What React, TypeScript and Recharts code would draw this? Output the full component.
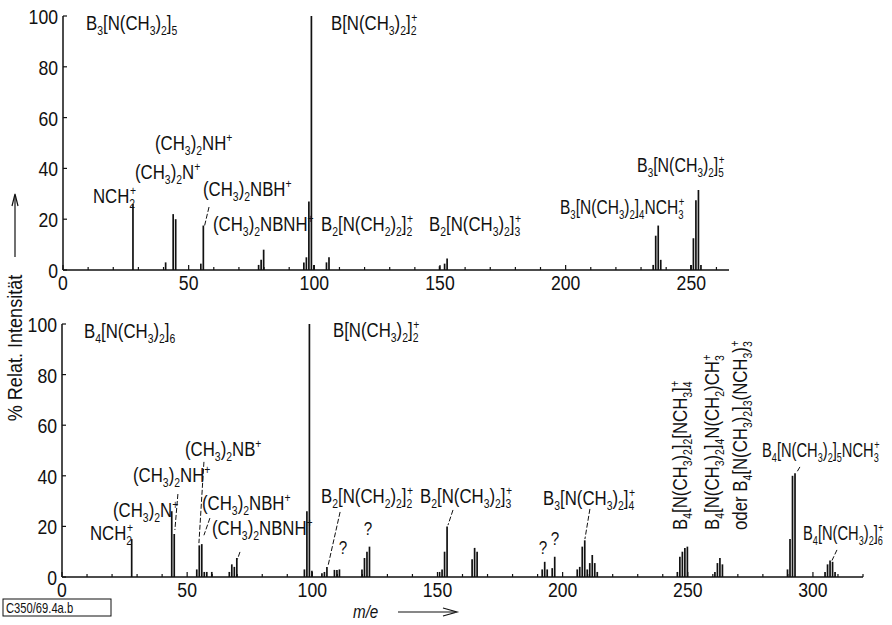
import React from 'react';
import { BarChart, Bar, XAxis, YAxis, ReferenceLine } from 'recharts';

// m/e values and relative intensities (%)
const topMz = [28, 41, 44, 45, 55, 56, 78, 79, 80, 96, 97, 98, 99, 100, 105, 106, 150, 152, 153, 235, 236, 237, 238, 250, 251, 252, 253, 254];
const topInt = [26, 3, 22, 20, 2.5, 17.5, 2, 4, 8, 3, 5, 27, 100, 2, 3, 5, 1.5, 2.5, 4.5, 2, 13.5, 17.5, 4, 2, 12.5, 27.5, 31.5, 2];

const bottomMz = [28, 44, 45, 54, 55, 56, 57, 58, 60, 67, 68, 69, 70, 97, 98, 99, 100, 104, 105, 106, 109, 110, 111, 120, 121, 122, 123, 151, 152, 153, 154, 164, 165, 166, 192, 193, 194, 196, 197, 206, 207, 208, 209, 210, 211, 212, 213, 214, 246, 247, 248, 249, 250, 261, 262, 263, 264, 290, 291, 292, 293, 305, 306, 307, 308, 309];
const bottomInt = [15, 26, 17, 3, 12.5, 13, 2, 2, 2, 2, 5, 4, 7.5, 3, 26, 100, 2.5, 1.5, 2, 4, 2.8, 2.8, 3, 3, 7.5, 10, 12, 2, 3, 10, 20, 7, 11.5, 10, 3, 6, 3, 3.5, 8, 3, 4, 12, 14.5, 3, 5.5, 8.7, 5.5, 2, 2, 8, 10, 11.5, 12, 2, 5.5, 7.5, 5, 3, 15, 40, 41, 2, 5, 6.5, 6, 2];

const yTicks = [0, 20, 40, 60, 80, 100];
const topXTicks = [0, 10, 20, 30, 40, 50, 60, 70, 80, 90, 100, 110, 120, 130, 140, 150, 160, 170, 180, 190, 200, 210, 220, 230, 240, 250, 260];
const bottomXTicks = [0, 10, 20, 30, 40, 50, 60, 70, 80, 90, 100, 110, 120, 130, 140, 150, 160, 170, 180, 190, 200, 210, 220, 230, 240, 250, 260, 270, 280, 290, 300, 310, 320];

const topData = topMz.map((m, i) => ({ mz: m, i: topInt[i] }));
const bottomData = bottomMz.map((m, i) => ({ mz: m, i: bottomInt[i] }));

const FONT = '"Liberation Sans", Arial, sans-serif';
const INK = '#111';
const SX = 0.8; // the lettering of the original is a narrow DIN-like face

// leader lines, in (m/e, %) coordinates
const topLeaders = [[58.1, 24.8, 56.3, 17.3]];
const bottomLeaders = [
  [46.3, 32.8, 45.1, 18.6],
  [56.7, 45.5, 54.7, 13.4],
  [59.1, 23.3, 56.7, 16.5],
  [71.1, 9.9, 70.1, 7],
  [111.1, 25.7, 106.3, 4.5],
  [156.2, 26.5, 154.2, 20.5],
  [210.9, 26.9, 208.9, 15],
  [294.8, 43.5, 293.6, 41.5],
  [309.6, 10.7, 307.6, 6.5],
];

// "_x" subscript, "^x" superscript, "_x^y" stacked
type Seg = { k: 'n' | 'b' | 'p' | 'bp'; t: string; p?: string };
function parse(s: string): Seg[] {
  const out: Seg[] = [];
  let buf = '';
  let i = 0;
  const flush = () => {
    if (buf) out.push({ k: 'n', t: buf });
    buf = '';
  };
  while (i < s.length) {
    const c = s[i];
    if (c === '_') {
      flush();
      if (s[i + 2] === '^') {
        out.push({ k: 'bp', t: s[i + 1], p: s[i + 3] });
        i += 4;
      } else {
        out.push({ k: 'b', t: s[i + 1] });
        i += 2;
      }
    } else if (c === '^') {
      flush();
      out.push({ k: 'p', t: s[i + 1] });
      i += 2;
    } else {
      buf += c;
      i++;
    }
  }
  flush();
  return out;
}

function Narrow({ x, y, size = 21, anchor = 'start', rotate = false, italic = false, sx = SX, children }: any) {
  const tr = `translate(${x} ${y})${rotate ? ' rotate(-90)' : ''} scale(${sx} 1)`;
  return (
    <g transform={tr}>
      <text x={0} y={0} fontSize={size} fontFamily={FONT} fill={INK} textAnchor={anchor} fontStyle={italic ? 'italic' : undefined}>
        {children}
      </text>
    </g>
  );
}

function Formula({ x, y, s, size = 21, rotate = false, sx = SX }: { x: number; y: number; s: string; size?: number; rotate?: boolean; sx?: number }) {
  const small = size * 0.62;
  const subDy = size * 0.26;
  const supDy = size * 0.36;
  let off = 0;
  const spans: React.ReactNode[] = [];
  parse(s).forEach((g, i) => {
    if (g.k === 'n') {
      spans.push(<tspan key={i} dy={-off} fontSize={size}>{g.t}</tspan>);
      off = 0;
    } else if (g.k === 'b') {
      spans.push(<tspan key={i} dy={subDy - off} fontSize={small}>{g.t}</tspan>);
      off = subDy;
    } else if (g.k === 'p') {
      spans.push(<tspan key={i} dy={-supDy - off} fontSize={small}>{g.t}</tspan>);
      off = -supDy;
    } else {
      spans.push(<tspan key={i + 'b'} dy={subDy - off} fontSize={small}>{g.t}</tspan>);
      spans.push(<tspan key={i + 'p'} dx={-small * 0.5} dy={-supDy - subDy} fontSize={small}>{g.p}</tspan>);
      off = -supDy;
    }
  });
  return (
    <Narrow x={x} y={y} size={size} rotate={rotate} sx={sx}>
      {spans}
    </Narrow>
  );
}

const XTick = (props: any) => {
  const { x, y, payload } = props;
  const v = payload.value;
  const major = v % 50 === 0;
  return (
    <g>
      <line x1={x} x2={x} y1={y} y2={y - (major ? 5 : 3)} stroke={INK} strokeWidth={1.2} />
      {major && (
        <Narrow x={x} y={y + 20} anchor="middle" sx={0.84}>
          {v}
        </Narrow>
      )}
    </g>
  );
};

const YTick = (props: any) => {
  const { x, y, payload } = props;
  return (
    <g>
      <line x1={x} x2={x + 4} y1={y} y2={y} stroke={INK} strokeWidth={1.2} />
      <Narrow x={x - 5} y={y + 8} anchor="end" sx={0.84}>
        {payload.value}
      </Narrow>
    </g>
  );
};

function Spectrum({ data, xMax, xTicks, width, height, margin, xHeight, yWidth, leaders }: any) {
  return (
    <BarChart width={width} height={height} data={data} margin={margin}>
      <XAxis
        dataKey="mz"
        type="number"
        domain={[0, xMax]}
        ticks={xTicks}
        interval={0}
        height={xHeight}
        tickSize={0}
        tickMargin={0}
        tickLine={false}
        axisLine={{ stroke: INK, strokeWidth: 1.5 }}
        tick={<XTick />}
        allowDataOverflow
      />
      <YAxis
        type="number"
        domain={[0, 100]}
        ticks={yTicks}
        interval={0}
        width={yWidth}
        tickSize={0}
        tickMargin={0}
        tickLine={false}
        axisLine={{ stroke: INK, strokeWidth: 1.5 }}
        tick={<YTick />}
      />
      <Bar dataKey="i" fill={INK} barSize={1.7} isAnimationActive={false} />
      {leaders.map((l: number[], i: number) => (
        <ReferenceLine
          key={i}
          segment={[{ x: l[0], y: l[1] }, { x: l[2], y: l[3] }]}
          stroke={INK}
          strokeWidth={1}
          strokeDasharray="5 2"
          ifOverflow="visible"
        />
      ))}
    </BarChart>
  );
}

export default function App() {
  return (
    <div style={{ position: 'absolute', left: 0, top: 0, width: 892, height: 625, background: '#fff', overflow: 'hidden' }}>
      <div style={{ position: 'absolute', left: 0, top: 0 }}>
        <Spectrum
          data={topData}
          xMax={265}
          xTicks={topXTicks}
          width={760}
          height={300}
          margin={{ top: 16, right: 31, left: 0, bottom: 0 }}
          xHeight={30}
          yWidth={63}
          leaders={topLeaders}
        />
      </div>
      <div style={{ position: 'absolute', left: 0, top: 300 }}>
        <Spectrum
          data={bottomData}
          xMax={320}
          xTicks={bottomXTicks}
          width={892}
          height={325}
          margin={{ top: 24, right: 29, left: 0, bottom: 0 }}
          xHeight={48}
          yWidth={62}
          leaders={bottomLeaders}
        />
      </div>
      <svg width={892} height={625} style={{ position: 'absolute', left: 0, top: 0, pointerEvents: 'none' }}>
        {/* upper spectrum */}
        <Formula x={86} y={30} s="B_3[N(CH_3)_2]_5" />
        <Formula x={331} y={30} s="B[N(CH_3)_2]_2^+" />
        <Formula x={93} y={203} s="NCH_2^+" />
        <Formula x={155} y={150} s="(CH_3)_2NH^+" />
        <Formula x={135} y={179} s="(CH_3)_2N^+" />
        <Formula x={203} y={196} s="(CH_3)_2NBH^+" />
        <Formula x={213} y={231} s="(CH_3)_2NBNH^+" />
        <Formula x={321} y={231} s="B_2[N(CH_2)_2]_2^+" />
        <Formula x={429} y={231} s="B_2[N(CH_3)_2]_3^+" />
        <Formula x={560} y={214} s="B_3[N(CH_3)_2]_4NCH_3^+" sx={0.74} />
        <Formula x={637} y={172} s="B_3[N(CH_3)_2]_5^+" sx={0.76} />

        {/* lower spectrum */}
        <Formula x={84} y={338} s="B_4[N(CH_3)_2]_6" />
        <Formula x={333} y={337} s="B[N(CH_3)_2]_2^+" />
        <Formula x={90} y={540} s="NCH_2^+" />
        <Formula x={113} y={517} s="(CH_3)_2N^+" />
        <Formula x={133} y={482} s="(CH_3)_2NH^+" />
        <Formula x={185} y={456} s="(CH_3)_2NB^+" />
        <Formula x={202} y={510} s="(CH_3)_2NBH^+" />
        <Formula x={212} y={535} s="(CH_3)_2NBNH^+" />
        <Formula x={321} y={503} s="B_2[N(CH_2)_2]_2^+" />
        <Formula x={420} y={503} s="B_2[N(CH_3)_2]_3^+" />
        <Formula x={543} y={505} s="B_3[N(CH_3)_2]_4^+" />
        <Formula x={687} y={530} s="B_4[N(CH_3)_2]_2[NCH_3]_4^+" rotate />
        <Formula x={719} y={530} s="B_4[N(CH_3)_2]_4N(CH_2)CH_3^+" rotate />
        <Formula x={747} y={530} s="oder B_4[N(CH_3)_2]_3(NCH_3)_3^+" rotate />
        <Formula x={762} y={457} s="B_4[N(CH_3)_2]_5NCH_3^+" sx={0.7} />
        <Formula x={803} y={540} s="B_4[N(CH_3)_2]_6^+" sx={0.7} />
        <Narrow x={343} y={554} size={19} anchor="middle">?</Narrow>
        <Narrow x={368} y={535} size={19} anchor="middle">?</Narrow>
        <Narrow x={543} y={554} size={19} anchor="middle">?</Narrow>
        <Narrow x={555} y={545} size={19} anchor="middle">?</Narrow>

        {/* axis title and arrows */}
        <g stroke={INK} strokeWidth={1.2} fill="none">
          <line x1={15} y1={257} x2={15} y2={195} />
          <polyline points="12,206 15,194 18,206" />
          <line x1={398} y1={612} x2={455} y2={612} />
          <polyline points="443,608 457,612 443,616" />
        </g>
        <Narrow x={22} y={348} size={21} anchor="middle" rotate sx={0.86}>
          % Relat. Intensität
        </Narrow>
        <Narrow x={353} y={618} size={19} italic>
          m/e
        </Narrow>
        <rect x={3} y={599} width={108} height={17} fill="none" stroke={INK} strokeWidth={1} />
        <Narrow x={6} y={612.5} size={14}>
          C350/69.4a.b
        </Narrow>
      </svg>
    </div>
  );
}
